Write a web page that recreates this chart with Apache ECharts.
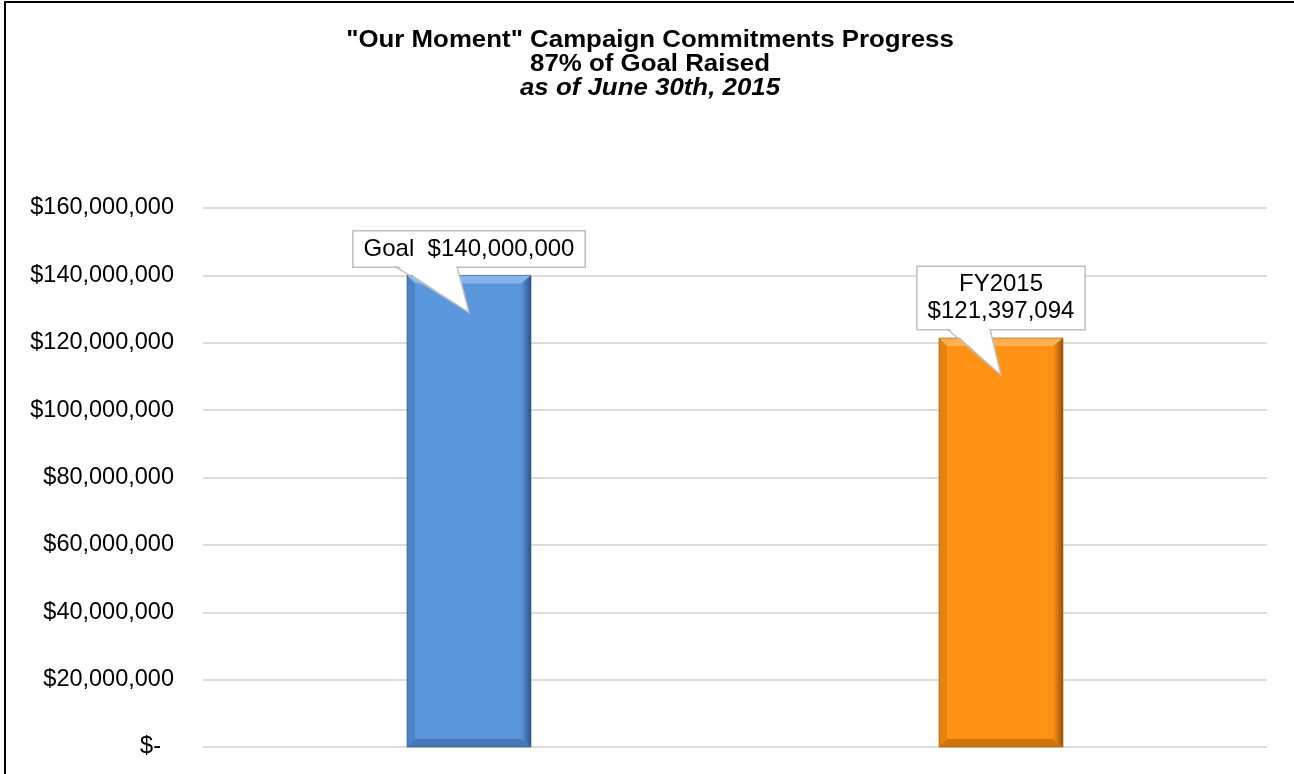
<!DOCTYPE html>
<html><head><meta charset="utf-8">
<script src="https://cdn.jsdelivr.net/npm/echarts@6/dist/echarts.min.js"></script>
<style>html,body{margin:0;padding:0;background:#fff;overflow:hidden}#c{width:1294px;height:774px}</style>
</head><body><div id="c"></div>
<script>
// ---- data ----
const categories = ['Goal', 'FY2015'];
const values = [140000000, 121397094];
const calloutLines = [['Goal  $140,000,000'], ['FY2015', '$121,397,094']];
const titleLines = ['"Our Moment" Campaign Commitments Progress', '87% of Goal Raised', 'as of June 30th, 2015'];
const yMin = 0, yMax = 160000000, yInterval = 20000000;

// ---- styles ----
const FONT = '"Liberation Sans", Arial, sans-serif';
const barPalettes = [
  {main:'#5b97dd', top:'#86b5ec', left:'#4c83c6', right:'#2c5489', bottom:'#4677b6'},
  {main:'#ff9214', top:'#ffb04e', left:'#e4830f', right:'#9a5306', bottom:'#d0740b'}
];
const pointerBase = [[-74,-12],[-54,-11]];
const titleY = [41, 65, 89];
const titleItalic = [false, false, true];

function fmt(v){
  if (v === 0) return '{z|$-}';
  return '$' + v.toLocaleString('en-US');
}

const chart = echarts.init(document.getElementById('c'), null, {renderer:'canvas'});

const baseGraphic = [
  {type:'polyline', z:200, shape:{points:[[5,774],[5,2],[1294,2]]}, style:{stroke:'#000', lineWidth:2, fill:null}}
].concat(titleLines.map((t,i)=>({
  type:'text', z:200, x:650, y:titleY[i], scaleX:1.1,
  style:{text:t, font:(titleItalic[i]?'italic ':'') + 'bold 23.5px ' + FONT, fill:'#000', align:'center', verticalAlign:'middle'}
})));

const option = {
  backgroundColor:'#fff',
  animation:false,
  grid:{left:203, right:27, top:208, bottom:27, containLabel:false},
  xAxis:{type:'category', data:categories, axisLine:{show:false}, axisTick:{show:false}, axisLabel:{show:false}, splitLine:{show:false}},
  yAxis:{type:'value', min:yMin, max:yMax, interval:yInterval,
    axisLine:{show:false}, axisTick:{show:false},
    splitLine:{lineStyle:{color:'#dcdcdc', width:2}},
    axisLabel:{fontFamily:FONT, fontSize:23.5, color:'#000', margin:29, formatter:fmt,
      rich:{z:{fontFamily:FONT, fontSize:23.5, color:'#000', padding:[0,13,0,0]}}}
  },
  series:[{
    type:'custom',
    data: values.map((v,i)=>[i, v]),
    renderItem:function(params, api){
      const i = api.value(0);
      const top = api.coord([i, api.value(1)]);
      const base = api.coord([i, 0]);
      const bandW = api.size([1,0])[0];
      const w = bandW * 0.233;
      const x0 = top[0] - w/2, x1 = top[0] + w/2, y0 = top[1], y1 = base[1];
      const pal = barPalettes[params.dataIndex];
      const b = 8;
      return {type:'group', children:[
        {type:'rect', shape:{x:x0, y:y0, width:w, height:y1-y0}, style:{fill:pal.main}},
        {type:'polygon', shape:{points:[[x0,y0],[x1,y0],[x1-b,y0+b],[x0+b,y0+b]]}, style:{fill:pal.top}},
        {type:'polygon', shape:{points:[[x0,y0],[x0+b,y0+b],[x0+b,y1-b],[x0,y1]]}, style:{fill:pal.left}},
        {type:'polygon', shape:{points:[[x1,y0],[x1,y1],[x1-b-2,y1-b],[x1-b-2,y0+b]]},
          style:{fill:new echarts.graphic.LinearGradient(0,0,1,0,[{offset:0,color:pal.main},{offset:1,color:pal.right}])}},
        {type:'polygon', shape:{points:[[x0,y1],[x1,y1],[x1-b-2,y1-b],[x0+b,y1-b]]}, style:{fill:pal.bottom}},
        {type:'rect', shape:{x:x0, y:y0, width:w, height:y1-y0}, style:{fill:'none', stroke:pal.right, lineWidth:1, opacity:0.6}}
      ]};
    }
  }],
  graphic: baseGraphic
};
chart.setOption(option);

// callouts positioned from the library's own scales
const els = [];
values.forEach((v,i)=>{
  const p = chart.convertToPixel({gridIndex:0}, [i, v]);
  const cx = p[0], barTop = p[1];
  const boxBottom = barTop - 9;
  const tipY = barTop + 37;
  const [l, r] = pointerBase[i];
  els.push({type:'text', z:300, x:cx, y:boxBottom, style:{
    text: calloutLines[i].join('\n'), font:'24px ' + FONT, fill:'#000',
    align:'center', verticalAlign:'bottom', lineHeight:27,
    backgroundColor:'#fff', borderColor:'#bfbfbf', borderWidth:1.5, padding:[4,10,4,10]
  }});
  els.push({type:'polygon', z:301, shape:{points:[[cx+l+1, boxBottom-2],[cx+r-1, boxBottom-2],[cx, tipY]]}, style:{fill:'#fff'}});
  els.push({type:'polyline', z:302, shape:{points:[[cx+l, boxBottom],[cx, tipY],[cx+r, boxBottom]]}, style:{stroke:'#bfbfbf', lineWidth:1.5, fill:null}});
});
chart.setOption({graphic: baseGraphic.concat(els)});
</script>
</body></html>
